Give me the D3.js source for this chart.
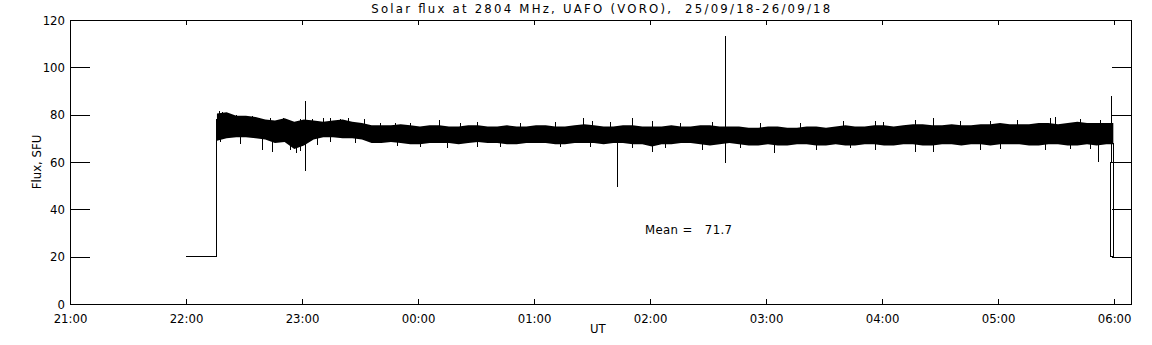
<!DOCTYPE html>
<html lang="en">
<head>
<meta charset="UTF-8">
<title>Solar flux at 2804 MHz</title>
<script src="https://cdn.jsdelivr.net/npm/d3@7/dist/d3.min.js"></script>
<style>
	body { margin: 0; background: #fff; }
	svg { display: block; }
	text { font-family: "DejaVu Sans Condensed", "DejaVu Sans", sans-serif; font-size: 13px; fill: #000; white-space: pre; }
	.tick line, .frame, .trace { stroke: #000; stroke-width: 1px; shape-rendering: crispEdges; }
</style>
</head>
<body>
<svg id="chart" width="1152" height="345"></svg>
<script>
const width = 1152, height = 345;
const margin = {top: 20, right: 20.5, bottom: 41, left: 70};

// time axis: minutes after 25/09/18 21:00 UT
const startTime = Date.UTC(2018, 8, 25, 21, 0);
const endMinute = 549;

// flat level before the receiver came up, then the jump
const leadTimes = [60, 76, 76];
const leadValues = [20, 20, 78];

// band envelope of the noisy record, every 5 min from 22:16
const bandStart = 76, bandStep = 5;
const bandHigh = [80.5, 81, 79.5, 79.5, 79, 78, 77.5, 78.5, 77, 78,
	77.5, 77, 77.5, 78, 77, 76.5, 75.5, 75.5, 75.5, 76,
	75.5, 75, 75.5, 75.5, 75, 75, 75.5, 75.5, 75, 75,
	75.5, 75, 75, 75.5, 75.5, 75, 75, 75.5, 76, 75.5,
	75, 75, 75.5, 75.5, 75, 75, 75, 75.5, 75, 75,
	75.5, 75.5, 75, 75, 75, 74.5, 74.5, 75, 75, 74.5,
	74.5, 75, 75, 74.5, 75, 75.5, 75, 75, 75.5, 75.5,
	75, 75.5, 76, 76, 75.5, 75.5, 76, 75.5, 75.5, 76,
	76, 76.5, 76, 76, 76, 76.5, 76.5, 76, 76.5, 77,
	76.5, 76.5, 76.5];
const bandLow = [69, 70, 70.5, 70.5, 70, 69.5, 68, 68.5, 65.5, 67,
	69.5, 70.5, 70.5, 70, 70, 69.5, 68, 68, 68.5, 68,
	67.5, 67.5, 68, 68, 68, 67.5, 68, 68.5, 68, 68,
	67.5, 67.5, 68, 68, 68, 67.5, 67.5, 68, 68, 68,
	67.5, 68, 68, 67.5, 67.5, 66.5, 67.5, 67.5, 68, 68,
	67.5, 67, 67.5, 68, 67.5, 67, 67, 67.5, 67, 67,
	67.5, 67.5, 67, 67, 67.5, 67, 67, 67.5, 67.5, 67,
	67, 67.5, 67.5, 67, 67, 67.5, 67.5, 67, 67.5, 67.5,
	67, 67.5, 67.5, 67.5, 67, 67, 67.5, 67.5, 67, 67,
	67.5, 67, 67.5];

// short excursions above / below the band
const upTimes = [77.1, 78.6, 80.7, 85.9, 90.5, 94.1, 103.4, 110.2, 119, 125.2,
	130.9, 134.5, 139.7, 143.8, 152.1, 160.3, 168.1, 175.9, 190.9, 201.7,
	210.5, 232.8, 250.9, 265.3, 270, 279.3, 290.7, 301, 315.5, 332.1,
	356.9, 377.6, 399.8, 416.4, 420.5, 437.1, 446.4, 460.3, 475.9, 489.8,
	506.9, 509.5, 522.4, 532.8];
const upValues = [81.5, 81.3, 80.5, 80, 79.5, 79.5, 78.5, 78.5, 78, 78,
	78.5, 78.5, 78, 78.5, 78, 76.6, 76.5, 76.3, 77.7, 76.5,
	77, 76.5, 76.8, 78.4, 77.5, 76.8, 78.4, 77.3, 76.5, 77,
	76.5, 76.5, 77.3, 77.3, 77, 77.7, 78.4, 77.5, 77.5, 77.7,
	78.5, 79.1, 78, 77.6];
const downTimes = [77.6, 87.9, 99.3, 104.5, 113.8, 116.9, 119, 127.8, 134.5, 147.4,
	169.1, 181, 195, 210.5, 222.4, 253.4, 269, 290.7, 301, 307.8,
	326.9, 346.6, 364.1, 385.9, 403.4, 416.4, 437.1, 446.4, 470.7, 481,
	504.3, 517.2, 527.6];
const downValues = [68.6, 67.5, 65, 64.4, 65, 63.7, 64.5, 67.2, 68.5, 68,
	66.8, 66.5, 66, 66.5, 66.5, 66.5, 66.5, 65.8, 64.4, 66,
	65.1, 66, 63.7, 65.1, 65.8, 65.1, 64.4, 64.4, 65.1, 65.5,
	65.1, 65.5, 65.5];

// large single spikes
const spikeTimes = [121.6, 282.9, 338.8, 531.9];
const spikeLow = [56.2, 49.3, 59.7, 60.1];
const spikeHigh = [85.8, 72, 113.2, 72];

// end of the record
const tailTimes = [539.6, 539.6, 538.1, 538.1, 538.6, 538.6];
const tailValues = [68, 20, 20, 60, 60, 88];

const yMajor = [0, 20, 40, 60, 80, 100, 120];
const yMinor = d3.range(0, 121, 5);
const meanValue = 71.7;

const toDate = m => new Date(startTime + m * 60000);

const svg = d3.select("#chart");
const x = d3.scaleUtc()
	.domain([toDate(0), toDate(endMinute)])
	.range([margin.left, width - margin.right]);
const y = d3.scaleLinear()
	.domain([0, 120])
	.range([height - margin.bottom, margin.top]);

const plotLeft = margin.left, plotRight = width - margin.right;
const plotTop = margin.top, plotBottom = height - margin.bottom;

// band as filled area
const band = bandHigh.map((h, i) => ({t: bandStart + i * bandStep, hi: h, lo: bandLow[i]}));
band.push({t: 539.6, hi: 76.5, lo: 67.5});
svg.append("path")
	.datum(band)
	.attr("fill", "#000")
	.attr("d", d3.area()
		.x(d => x(toDate(d.t)))
		.y0(d => y(d.lo))
		.y1(d => y(d.hi)));

const line = d3.line().x(d => x(toDate(d[0]))).y(d => y(d[1]));
svg.append("path")
	.attr("class", "trace").attr("fill", "none")
	.attr("d", line(leadTimes.map((t, i) => [t, leadValues[i]])));
svg.append("path")
	.attr("class", "trace").attr("fill", "none")
	.attr("d", line(tailTimes.map((t, i) => [t, tailValues[i]])));

function vline(t, v0, v1) {
	const px = Math.round(x(toDate(t))) + 0.5;
	svg.append("line").attr("class", "trace")
		.attr("x1", px).attr("x2", px)
		.attr("y1", y(v0)).attr("y2", y(v1));
}
upTimes.forEach((t, i) => vline(t, 72, upValues[i]));
downTimes.forEach((t, i) => vline(t, 72, downValues[i]));
spikeTimes.forEach((t, i) => vline(t, spikeLow[i], spikeHigh[i]));

// axes
const hourFmt = d3.utcFormat("%H:%M");
const gB = svg.append("g").attr("transform", `translate(0,${plotBottom})`);
gB.call(d3.axisBottom(x).ticks(d3.utcMinute.every(10)).tickSize(-3).tickFormat(""));
gB.call(d3.axisBottom(x).ticks(d3.utcHour.every(1)).tickSize(-5).tickPadding(10).tickFormat(hourFmt));
const gT = svg.append("g").attr("transform", `translate(0,${plotTop})`);
gT.call(d3.axisTop(x).ticks(d3.utcMinute.every(10)).tickSize(-3).tickFormat(""));
gT.call(d3.axisTop(x).ticks(d3.utcHour.every(1)).tickSize(-5).tickFormat(""));
const gL = svg.append("g").attr("transform", `translate(${plotLeft},0)`);
gL.call(d3.axisLeft(y).tickValues(yMinor).tickSize(-10).tickFormat(""));
gL.call(d3.axisLeft(y).tickValues(yMajor).tickSize(-20).tickPadding(5).tickFormat(d3.format("d")));
const gR = svg.append("g").attr("transform", `translate(${plotRight},0)`);
gR.call(d3.axisRight(y).tickValues(yMinor).tickSize(-10).tickFormat(""));
gR.call(d3.axisRight(y).tickValues(yMajor).tickSize(-20).tickFormat(""));
svg.selectAll(".domain").remove();
svg.selectAll(".tick text").attr("font-family", null).attr("font-size", null);

svg.append("rect").attr("class", "frame")
	.attr("x", plotLeft + 0.5).attr("y", plotTop + 0.5)
	.attr("width", plotRight - plotLeft - 1).attr("height", plotBottom - plotTop)
	.attr("fill", "none");

// texts
svg.append("text")
	.attr("x", (plotLeft + plotRight) / 2).attr("y", 13)
	.attr("text-anchor", "middle")
	.attr("textLength", 459).attr("lengthAdjust", "spacing")
	.text("Solar flux at 2804 MHz, UAFO (VORO),  25/09/18-26/09/18");
svg.append("text")
	.attr("x", (plotLeft + plotRight) / 2 - 3).attr("y", 333)
	.attr("text-anchor", "middle")
	.text("UT");
svg.append("text")
	.attr("transform", `translate(41,${(plotTop + plotBottom) / 2}) rotate(-90)`)
	.attr("text-anchor", "middle")
	.text("Flux, SFU");
svg.append("text")
	.attr("x", 645).attr("y", 234)
	.attr("textLength", 87).attr("lengthAdjust", "spacing")
	.text(`Mean =   ${meanValue}`);
</script>
</body>
</html>
